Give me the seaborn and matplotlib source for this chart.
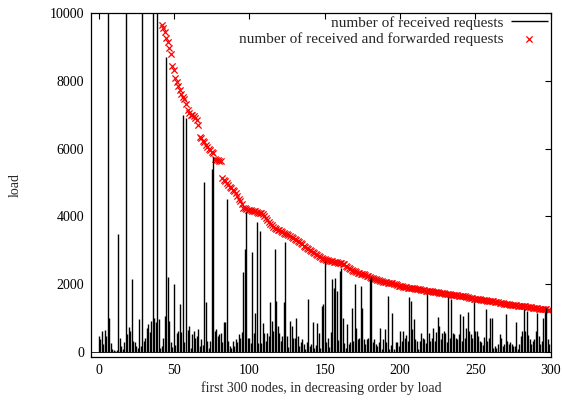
import matplotlib
matplotlib.use("Agg")
import matplotlib.pyplot as plt
import seaborn as sns
import numpy as np
import pandas as pd

# =========================
# DATA
# =========================
# load of each of the first 300 nodes (received requests only); values above
# 10000 are clipped in the original figure
received = [
    470, 380, 620, 230, 640, 470, 12000, 1000, 250, 80,
    50, 30, 60, 3490, 420, 180, 90, 300, 12000, 540,
    740, 620, 2160, 330, 280, 180, 120, 970, 180, 12000,
    330, 420, 720, 820, 600, 900, 12000, 1010, 870, 12000,
    980, 130, 180, 420, 1060, 8700, 2200, 900, 300, 150,
    2010, 200, 550, 620, 1420, 600, 6980, 300, 6890, 650,
    770, 130, 520, 620, 420, 470, 670, 180, 370, 200,
    5010, 1460, 330, 130, 330, 5400, 5750, 620, 680, 470,
    520, 570, 280, 870, 870, 4510, 330, 180, 130, 330,
    180, 370, 280, 530, 420, 600, 2350, 3040, 4120, 400,
    420, 250, 2940, 570, 1160, 3830, 250, 3580, 250, 840,
    570, 330, 570, 470, 1460, 900, 620, 3040, 1510, 770,
    570, 330, 470, 1460, 3230, 470, 160, 920, 770, 420,
    420, 1010, 470, 180, 280, 370, 230, 80, 300, 1560,
    180, 230, 870, 130, 200, 840, 570, 130, 1360, 1410,
    2690, 300, 420, 160, 600, 2150, 1900, 2180, 1800, 350,
    2400, 2490, 1010, 250, 130, 820, 230, 300, 1310, 330,
    2000, 720, 370, 420, 1950, 1310, 370, 230, 370, 420,
    2150, 2200, 280, 370, 230, 180, 300, 720, 80, 370,
    670, 280, 1660, 80, 200, 1160, 80, 280, 280, 180,
    620, 330, 620, 420, 500, 330, 1610, 1510, 670, 970,
    370, 330, 80, 330, 570, 420, 370, 250, 1710, 570,
    330, 420, 720, 330, 600, 1030, 770, 370, 570, 620,
    570, 300, 1610, 420, 1560, 570, 520, 420, 370, 520,
    1110, 330, 1050, 420, 720, 1180, 620, 520, 420, 1460,
    620, 620, 470, 330, 280, 200, 450, 1260, 330, 420,
    1010, 1010, 130, 180, 130, 230, 520, 420, 180, 230,
    1110, 330, 230, 280, 230, 180, 180, 870, 80, 230,
    470, 620, 1260, 620, 1210, 500, 370, 230, 330, 370,
    620, 1160, 470, 230, 330, 1010, 1180, 1310, 370, 230,
]

# received + forwarded load, visible from node 42 on (earlier nodes are above 10000)
forwarded_first_node = 42
forwarded = [
    9650, 9550, 9450, 9250, 9150, 8950, 8800, 8420,
    8330, 8080, 7950, 7840, 7720, 7620, 7520, 7470, 7300, 7130,
    7050, 7000, 6980, 6950, 6900, 6850, 6690, 6340, 6300, 6220,
    6190, 6100, 6040, 6000, 5950, 5900, 5860, 5700, 5660, 5650,
    5640, 5630, 5120, 5080, 5030, 4980, 4930, 4880, 4830, 4780,
    4740, 4680, 4600, 4520, 4440, 4350, 4260, 4240, 4220, 4200,
    4190, 4180, 4170, 4165, 4150, 4130, 4110, 4095, 4085, 4060,
    4000, 3940, 3880, 3820, 3770, 3730, 3700, 3670, 3640, 3610,
    3590, 3565, 3540, 3515, 3490, 3470, 3440, 3410, 3380, 3350,
    3320, 3290, 3260, 3230, 3200, 3170, 3140, 3110, 3070, 3030,
    3000, 2980, 2950, 2910, 2880, 2850, 2820, 2790, 2770, 2750,
    2730, 2715, 2700, 2690, 2680, 2670, 2660, 2650, 2640, 2630,
    2620, 2610, 2600, 2580, 2550, 2520, 2490, 2460, 2430, 2400,
    2380, 2360, 2340, 2320, 2310, 2300, 2290, 2270, 2250, 2230,
    2210, 2195, 2180, 2165, 2150, 2135, 2120, 2105, 2090, 2075,
    2065, 2055, 2045, 2040, 2035, 2020, 2005, 1990, 1975, 1960,
    1950, 1940, 1930, 1920, 1910, 1900, 1890, 1885, 1880, 1875,
    1870, 1865, 1860, 1850, 1840, 1830, 1820, 1810, 1800, 1795,
    1790, 1785, 1775, 1765, 1760, 1755, 1750, 1745, 1735, 1725,
    1715, 1705, 1700, 1695, 1690, 1680, 1675, 1670, 1668, 1665,
    1662, 1660, 1657, 1645, 1630, 1615, 1600, 1590, 1580, 1570,
    1565, 1560, 1555, 1550, 1545, 1540, 1530, 1520, 1515, 1512,
    1510, 1500, 1490, 1480, 1470, 1460, 1450, 1440, 1432, 1425,
    1418, 1410, 1403, 1396, 1390, 1385, 1380, 1375, 1370, 1366,
    1363, 1361, 1360, 1350, 1340, 1330, 1320, 1312, 1305, 1298,
    1292, 1286, 1280, 1275, 1270, 1265, 1260, 1255, 1250, 1245,
]

x_ticks = [0, 50, 100, 150, 200, 250, 300]
y_ticks = [0, 2000, 4000, 6000, 8000, 10000]


def plot_load():
    sns.set_style("white")
    plt.rcParams["font.family"] = ["Liberation Serif", "DejaVu Serif"]
    plt.rcParams["font.size"] = 10

    df_recv = pd.DataFrame({"node": np.arange(len(received)), "load": received})
    df_fwd = pd.DataFrame({
        "node": np.arange(forwarded_first_node, forwarded_first_node + len(forwarded)),
        "load": forwarded,
    })

    fig = plt.figure(figsize=(5.62, 4.03), dpi=100)
    ax = fig.add_axes([0.162, 0.114, 0.818, 0.854])

    # impulses
    ax.vlines(df_recv["node"], 0, df_recv["load"], color="black", lw=1.0,
              label="number of received requests")
    ax.axhline(0, color="black", lw=0.6)

    # red crosses
    sns.scatterplot(data=df_fwd, x="node", y="load", marker="x", color="red",
                    s=20, linewidth=0.9, ax=ax,
                    label="number of received and forwarded requests")

    ax.set_xlim(-5, 300)
    ax.set_ylim(-150, 10000)
    ax.set_xticks(x_ticks)
    ax.set_yticks(y_ticks)
    ax.tick_params(direction="in", length=4, width=0.8, top=True, right=True,
                   labelsize=10, colors="black", pad=5)
    for sp in ax.spines.values():
        sp.set_visible(True)
        sp.set_color("black")
        sp.set_linewidth(0.9)

    ax.set_xlabel("first 300 nodes, in decreasing order by load", fontsize=10, labelpad=3)
    ax.set_ylabel("load", fontsize=10, labelpad=20)

    ax.legend(loc="upper right", frameon=False, markerfirst=False,
              fontsize=11, handlelength=2.4, handletextpad=0.5,
              labelspacing=0.15, borderaxespad=0.0, borderpad=0.2)

    fig.savefig("out.png", dpi=100)
    plt.close(fig)


if __name__ == "__main__":
    plot_load()
